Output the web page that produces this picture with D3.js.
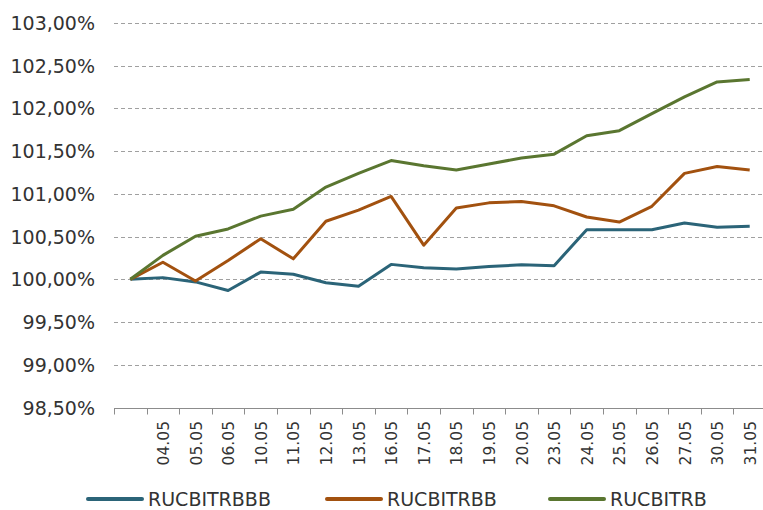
<!DOCTYPE html>
<html>
<head>
<meta charset="utf-8">
<script src="https://cdn.jsdelivr.net/npm/d3@7"></script>
<style>
  body { margin: 0; background: #fff; }
  svg { display: block; font-family: "DejaVu Sans", Verdana, sans-serif; }
</style>
</head>
<body>
<div class="svg-container"></div>
<script>
// categories (first one has no label - start point)
var dates = ["", "04.05", "05.05", "06.05", "10.05", "11.05", "12.05", "13.05", "16.05", "17.05",
  "18.05", "19.05", "20.05", "23.05", "24.05", "25.05", "26.05", "27.05", "30.05", "31.05"];

var bbb = [100.00, 100.02, 99.97, 99.87, 100.085, 100.06, 99.96, 99.92, 100.175, 100.135,
  100.12, 100.15, 100.17, 100.16, 100.58, 100.58, 100.58, 100.66, 100.61, 100.62];
var bb = [100.00, 100.20, 99.98, 100.22, 100.475, 100.24, 100.68, 100.81, 100.97, 100.40,
  100.835, 100.895, 100.91, 100.86, 100.73, 100.67, 100.855, 101.24, 101.32, 101.28];
var b = [100.00, 100.28, 100.505, 100.59, 100.74, 100.82, 101.08, 101.24, 101.39, 101.33,
  101.28, 101.35, 101.42, 101.465, 101.68, 101.74, 101.94, 102.135, 102.31, 102.34];

var seriesNames = ["RUCBITRBBB", "RUCBITRBB", "RUCBITRB"];
var yTicks = [98.5, 99, 99.5, 100, 100.5, 101, 101.5, 102, 102.5, 103];

var colors = ["#2b6478", "#a2510f", "#5a7630"];

var width = 763, height = 510;
var left = 114, bandW = 32.6;

var svg = d3.select(".svg-container").append("svg")
  .attr("width", width)
  .attr("height", height);

var x = d3.scaleBand()
  .domain(d3.range(dates.length))
  .range([left, left + bandW * dates.length])
  .padding(0);

var y = d3.scaleLinear()
  .domain([98.5, 103])
  .range([407.5, 23]);

var fmt = function(v) { return v.toFixed(2).replace(".", ",") + "%"; };

// gridlines
svg.append("g").selectAll("line")
  .data(yTicks.filter(function(d) { return d > 98.5; }))
  .enter().append("line")
  .attr("x1", left)
  .attr("x2", width)
  .attr("y1", function(d) { return Math.round(y(d)) + 0.5; })
  .attr("y2", function(d) { return Math.round(y(d)) + 0.5; })
  .style("stroke", "#a0a0a0")
  .style("stroke-width", 1)
  .style("stroke-dasharray", "4,3");

// y labels
svg.append("g").selectAll("text")
  .data(yTicks)
  .enter().append("text")
  .attr("x", 95)
  .attr("y", function(d) { return y(d) + 7; })
  .attr("text-anchor", "end")
  .style("font-size", "19px")
  .style("fill", "#333")
  .text(fmt);

// x axis line + ticks between categories
var axisY = Math.round(y(98.5)) + 0.5;
svg.append("line")
  .attr("x1", left)
  .attr("x2", width)
  .attr("y1", axisY)
  .attr("y2", axisY)
  .style("stroke", "#8c8c8c");

svg.append("g").selectAll("line")
  .data(d3.range(dates.length))
  .enter().append("line")
  .attr("x1", function(i) { return Math.round(x(i)) + 0.5; })
  .attr("x2", function(i) { return Math.round(x(i)) + 0.5; })
  .attr("y1", axisY)
  .attr("y2", axisY + 6)
  .style("stroke", "#8c8c8c");

// x labels (rotated)
svg.append("g").selectAll("text")
  .data(dates)
  .enter().append("text")
  .attr("transform", function(d, i) {
    return "translate(" + (x(i) + x.bandwidth() / 2 + 6) + "," + 421 + ") rotate(-90)";
  })
  .attr("text-anchor", "end")
  .style("font-size", "15.5px")
  .style("fill", "#333")
  .text(function(d) { return d; });

// lines
var line = d3.line()
  .x(function(d, i) { return x(i) + x.bandwidth() / 2; })
  .y(function(d) { return y(d); });

[bbb, bb, b].forEach(function(s, k) {
  svg.append("path")
    .datum(s)
    .attr("d", line)
    .attr("fill", "none")
    .attr("stroke", colors[k])
    .attr("stroke-width", 3)
    .attr("stroke-linejoin", "round");
});

// legend
var legendX = [88, 327, 550];
var legend = svg.append("g").selectAll("g")
  .data(seriesNames)
  .enter().append("g")
  .attr("transform", function(d, i) { return "translate(" + legendX[i] + ",499)"; });

legend.append("line")
  .attr("x1", 0)
  .attr("x2", 54)
  .attr("y1", 0)
  .attr("y2", 0)
  .style("stroke", function(d, i) { return colors[i]; })
  .style("stroke-width", 4)
  .style("stroke-linecap", "round");

legend.append("text")
  .attr("x", 60)
  .attr("y", 7)
  .style("font-size", "19px")
  .style("fill", "#333")
  .text(function(d) { return d; });
</script>
</body>
</html>
